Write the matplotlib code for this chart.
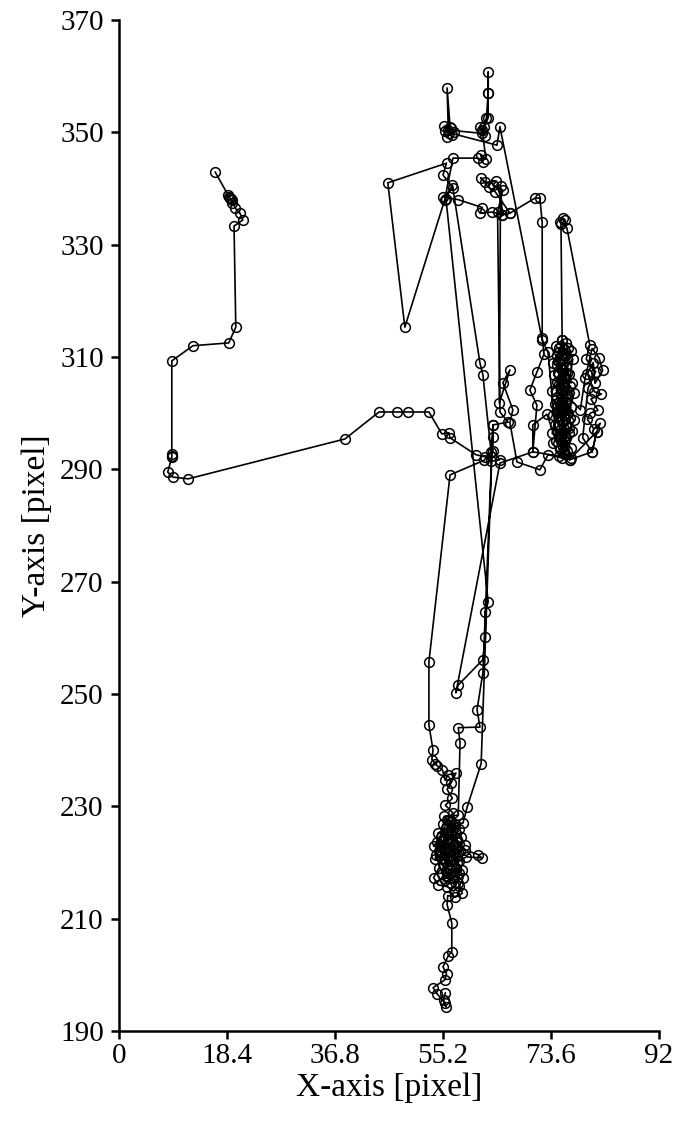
#Plots the tracked object path (pixel coordinates) with open circle markers

import numpy as np
import matplotlib
matplotlib.use('Agg')
import matplotlib.pyplot as plt

plt.rcParams['font.family'] = ['Liberation Serif', 'DejaVu Serif']

#Path pieces (x, y in pixel units)
#Start on the left and walk over to the hub near x=62
left_x = [16.4, 18.6, 18.8, 18.9, 19.1, 19.2, 19.3, 19.8, 20.6, 21.1, 19.6, 19.9, 18.7, 12.6, 9.0, 9.0,
          9.0, 9.0, 8.3, 9.2, 11.8, 38.5, 44.3, 47.4, 49.2, 52.8, 55.0, 56.2, 56.4]
left_y = [342.9, 338.8, 338.5, 338.3, 338.1, 337.4, 337.9, 336.5, 335.6, 334.4, 333.3, 315.3, 312.5, 312.0, 309.3, 292.8,
          292.4, 292.1, 289.5, 288.6, 288.3, 295.4, 300.2, 300.2, 300.2, 300.2, 296.3, 296.5, 295.6]

#Hub and climb to the upper clusters
top_x = [60.8, 62.4, 63.3, 64.9, 63.7, 63.7, 63.7, 66.3, 64.9,
         64.5, 65.4, 63.7, 64.3, 62.4, 61.6, 63.0, 64.1, 66.6, 65.2, 63.6, 61.5, 61.9,
         57.8, 55.2, 56.9, 55.2, 55.8, 45.8, 48.7, 55.5, 56.9, 61.2, 62.0, 61.6, 62.5,
         61.9, 62.3, 61.5, 62.2, 62.6, 62.9, 62.9, 62.9, 62.9, 61.9,
         56.1, 55.9, 56.4, 55.5, 56.7, 55.4, 56.5, 57.1, 55.9, 56.3,
         64.4, 64.9]
top_y = [292.6, 292.2, 291.4, 291.7, 293.2, 295.8, 297.9, 298.4, 300.2,
         335.8, 339.7, 340.6, 341.3, 341.1, 341.9, 340.2, 339.4, 335.6, 335.3, 335.8, 335.6, 336.6,
         338.0, 338.5, 340.1, 342.4, 344.5, 341.0, 315.3, 338.0, 345.4, 345.4, 344.7, 346.0, 345.2,
         350.4, 349.4, 351.0, 350.9, 352.6, 357.0, 360.7, 357.0, 352.6, 349.8,
         350.4, 357.9, 351.0, 350.3, 349.6, 351.1, 350.7, 350.1, 349.2, 349.9,
         347.7, 351.0]

#Right hand clusters (x ~ 73-82)
right_x = [72.1, 73.1, 74.5, 75.8, 76.8, 76.1, 74.8, 75.9, 74.3, 76.3, 75.0, 76.6, 74.7, 75.8,
           74.4, 75.5, 76.5, 75.2, 74.1, 75.9, 74.6, 77.0, 75.4, 76.7, 77.5, 76.0, 74.0, 73.7,
           75.3, 77.1, 76.2, 74.9, 73.9, 75.6, 77.3, 76.4,
           78.6, 79.4, 80.6, 81.8, 82.4, 81.1, 80.8, 79.8, 81.0, 82.2, 80.4, 81.6, 80.3, 79.8, 80.9,
           82.0, 81.4, 80.6, 79.0, 79.9, 81.2, 79.6, 80.2,
           76.3, 75.1, 75.6, 76.0, 75.3, 75.5,
           76.4, 74.8, 76.8, 75.4, 76.9, 75.6, 76.4, 75.0, 74.0, 75.2, 77.2, 76.2, 74.5, 75.6,
           77.0, 76.1, 74.6, 75.9, 77.6, 76.5, 75.0, 74.2, 76.0, 77.0, 75.4, 73.8, 74.9,
           75.2, 76.1, 75.0, 75.8, 76.6, 75.6, 76.4, 75.3, 74.6, 75.7, 76.4, 75.4, 74.8, 75.9,
           75.0, 76.2, 75.7, 74.7, 76.3, 75.3, 76.0, 75.2, 76.0, 75.5,
           72.9, 70.5, 70.5, 71.2, 70.0, 71.2, 72.4, 72.1, 72.1, 71.7, 70.9, 66.6, 65.3, 65.0,
           64.8, 66.6, 65.4, 67.1, 66.6, 67.8, 71.7, 73.1, 76.8, 80.6, 81.4, 77.0, 70.5, 64.9]
right_y = [313.0, 310.8, 295.0, 293.4, 291.7, 295.6, 297.9, 299.8, 301.6, 303.4, 305.2, 306.9, 308.6, 310.3,
           312.0, 313.0, 311.6, 309.4, 306.8, 304.6, 302.8, 301.0, 298.6, 296.4, 298.8, 300.6, 299.6, 303.9,
           306.0, 305.4, 308.2, 310.9, 309.0, 307.6, 309.6, 303.0,
           300.6, 306.2, 311.5, 309.8, 307.6, 305.3, 309.0, 307.0, 303.8, 303.4, 302.5, 300.5, 300.0, 298.9, 297.2,
           298.2, 296.7, 293.1, 295.6, 304.4, 307.4, 309.6, 312.2,
           333.0, 334.0, 334.7, 334.4, 333.6, 313.0,
           309.8, 307.2, 304.8, 302.2, 299.2, 296.6, 293.3, 292.4, 294.6, 297.0, 296.9, 301.8, 304.0, 308.8,
           311.0, 312.4, 310.2, 306.3, 303.6, 300.0, 300.4, 297.8, 295.2, 293.8, 294.8, 296.4, 302.0,
           299.0, 298.0, 296.0, 295.0, 297.4, 300.8, 302.6, 303.6, 305.6, 305.4, 307.2, 308.0, 309.3, 311.4,
           311.6, 310.4, 304.2, 300.3, 300.1, 301.5, 296.0, 293.6, 292.8, 292.0,
           299.8, 297.9, 293.1, 301.4, 304.1, 307.3, 310.5, 313.4, 334.0, 338.3, 338.3, 335.6, 335.3, 340.5,
           301.8, 307.7, 305.4, 300.6, 298.3, 291.3, 289.9, 292.6, 291.7, 293.1, 296.7, 292.0, 293.1, 291.1]

#Long descents from the hub and the upper cluster
down_x = [57.4, 57.8, 62.0, 62.4, 62.4, 62.9, 55.7, 56.8, 61.5, 62.0, 63.4, 62.2,
          56.4, 52.8, 52.8, 53.5]
down_y = [250.2, 251.6, 256.1, 260.2, 264.6, 266.4, 338.2, 340.6, 308.9, 306.8, 293.0, 291.6,
          289.0, 255.7, 244.5, 240.0]

#Lower cluster near x=56, first pass
low1_x = [53.3, 53.9, 54.2, 55.1, 55.6, 56.0, 57.4, 56.6, 55.9, 56.8, 55.6, 56.9, 55.8, 57.2,
          56.0, 54.9, 53.6, 54.2, 55.6, 57.0, 58.1, 56.7, 55.4, 56.2, 57.6, 58.4, 57.1, 55.8,
          54.5, 53.6, 54.4, 55.9, 57.0, 58.0, 58.6, 57.4, 55.9, 56.8, 58.3, 58.9, 57.7, 56.3,
          55.1, 56.0, 57.5, 56.4, 55.4, 57.8, 58.1, 57.8, 61.5, 61.0, 62.0, 63.7]
low1_y = [238.3, 237.6, 237.2, 236.5, 234.6, 235.6, 235.9, 234.2, 233.0, 231.4, 230.2, 228.8, 227.6, 226.4,
          225.2, 224.6, 222.9, 223.6, 222.4, 223.3, 222.0, 221.1, 220.4, 219.2, 219.9, 218.6, 217.6, 218.1,
          219.0, 217.3, 216.0, 215.7, 214.9, 215.8, 217.2, 220.9, 223.6, 225.6, 224.6, 223.1, 221.8, 221.8,
          221.5, 224.0, 225.2, 227.2, 228.2, 228.4, 241.3, 244.0, 244.1, 247.2, 253.8, 297.9]

#Second pass through the lower cluster and the tail at the bottom
low2_x = [61.7, 59.3, 58.6, 57.3, 55.7, 54.3, 53.9, 55.2, 56.5, 57.9, 59.2, 61.8, 61.2, 59.0,
          57.4, 55.8, 54.6, 55.3, 56.1, 56.9, 57.6, 57.0, 56.2, 55.5, 55.0, 55.7, 56.6, 57.4,
          56.8, 55.9, 55.1, 55.8, 56.9, 57.9, 57.6, 56.5, 55.4, 56.0, 56.9, 57.9, 56.3, 55.2,
          54.0, 55.5, 56.6, 57.8, 58.5, 57.3, 56.0, 55.9, 56.7, 56.7, 56.1, 55.2,
          55.8, 55.5, 53.5, 54.2, 55.5, 55.7, 55.3, 55.6]
low2_y = [237.6, 229.8, 227.0, 226.9, 226.1, 225.2, 220.6, 219.7, 220.3, 220.3, 221.0, 220.8, 221.4, 222.2,
          223.8, 224.8, 222.0, 223.0, 222.6, 222.9, 222.5, 221.6, 221.2, 221.6, 220.8, 220.1, 219.6, 219.1,
          218.2, 218.8, 218.0, 217.4, 217.3, 218.1, 223.7, 224.2, 224.3, 225.9, 226.7, 226.0, 227.6, 226.8,
          221.3, 216.8, 216.4, 216.4, 214.5, 213.8, 214.1, 212.5, 209.2, 204.1, 203.4, 201.4,
          200.2, 199.1, 197.7, 196.6, 195.0, 194.3, 195.6, 196.8]

xticks = [0, 18.4, 36.8, 55.2, 73.6, 92]
xtick_labels = ['0', '18.4', '36.8', '55.2', '73.6', '92']
yticks = [190, 210, 230, 250, 270, 290, 310, 330, 350, 370]

path_x = left_x + top_x + right_x + down_x + low1_x + low2_x
path_y = left_y + top_y + right_y + down_y + low1_y + low2_y

#Create the figure
fig = plt.figure(figsize=(6.73, 11.26), dpi=100)
ax = fig.add_axes([0.1768, 0.0844, 0.8024, 0.8979])

ax.plot(path_x, path_y, '-', color='black', linewidth=1.2,
        marker='o', markersize=7, markerfacecolor='none', markeredgecolor='black', markeredgewidth=1.1)

ax.set_xlim(0, 92)
ax.set_ylim(190, 370)
ax.set_xticks(xticks)
ax.set_xticklabels(xtick_labels)
ax.set_yticks(yticks)
ax.spines['top'].set_visible(False)
ax.spines['right'].set_visible(False)
ax.spines['left'].set_linewidth(1.8)
ax.spines['bottom'].set_linewidth(1.8)
ax.tick_params(axis='y', direction='out', length=6, width=1.8, labelsize=21, pad=5)
ax.tick_params(axis='x', direction='out', length=6, width=1.8, labelsize=21, pad=3)

ax.set_xlabel('X-axis [pixel]', fontsize=24, labelpad=2)
ax.set_ylabel('Y-axis [pixel]', fontsize=24, labelpad=6)

#Save the figure
plt.savefig('out.png', dpi=100)
